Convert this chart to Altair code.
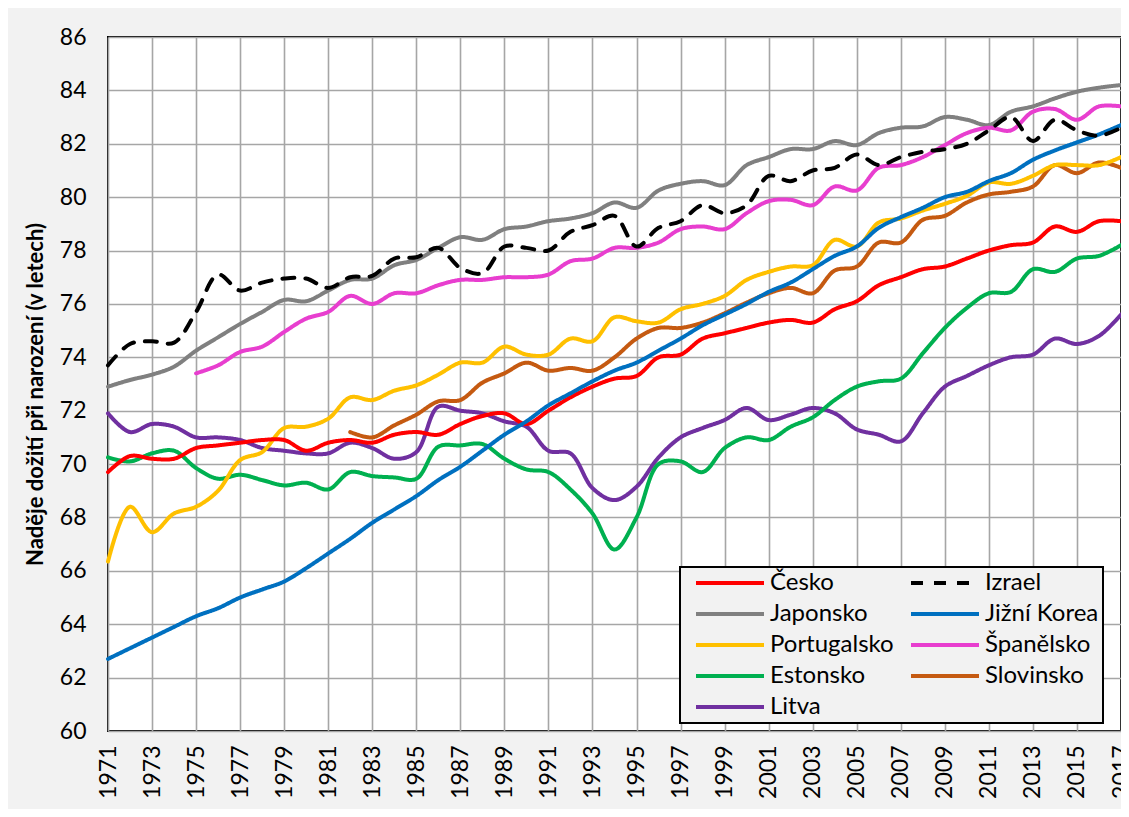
import altair as alt
import pandas as pd

years = list(range(1971, 2018))

cesko = [69.7, 70.3, 70.2, 70.2, 70.6, 70.7, 70.8, 70.9, 70.9, 70.5,
         70.8, 70.9, 70.8, 71.1, 71.2, 71.1, 71.5, 71.8, 71.9, 71.5,
         72.0, 72.5, 72.9, 73.2, 73.3, 74.0, 74.1, 74.7, 74.9, 75.1,
         75.3, 75.4, 75.3, 75.8, 76.1, 76.7, 77.0, 77.3, 77.4, 77.7,
         78.0, 78.2, 78.3, 78.9, 78.7, 79.1, 79.1]
izrael = [73.7, 74.5, 74.6, 74.55, 75.7, 77.1, 76.5, 76.8, 76.95, 76.95,
          76.6, 77.0, 77.05, 77.7, 77.75, 78.1, 77.35, 77.15, 78.15, 78.1,
          78.0, 78.7, 78.95, 79.3, 78.15, 78.85, 79.1, 79.7, 79.4, 79.7,
          80.8, 80.6, 81.0, 81.1, 81.6, 81.2, 81.5, 81.7, 81.8, 82.0,
          82.5, 83.0, 82.1, 82.9, 82.5, 82.3, 82.6]
japonsko = [72.9, 73.15, 73.35, 73.65, 74.25, 74.75, 75.25, 75.7, 76.15, 76.1,
            76.5, 76.9, 76.95, 77.45, 77.65, 78.1, 78.5, 78.4, 78.8, 78.9,
            79.1, 79.2, 79.4, 79.8, 79.6, 80.25, 80.5, 80.6, 80.45, 81.2,
            81.5, 81.8, 81.8, 82.1, 81.95, 82.4, 82.6, 82.65, 83.0, 82.9,
            82.7, 83.2, 83.4, 83.7, 83.95, 84.1, 84.2]
korea = [62.7, 63.1, 63.5, 63.9, 64.3, 64.6, 65.0, 65.3, 65.6, 66.1,
         66.65, 67.2, 67.8, 68.3, 68.8, 69.4, 69.9, 70.5, 71.1, 71.6,
         72.2, 72.65, 73.1, 73.5, 73.8, 74.25, 74.7, 75.2, 75.6, 76.0,
         76.45, 76.8, 77.3, 77.8, 78.15, 78.85, 79.25, 79.6, 80.0, 80.2,
         80.6, 80.9, 81.4, 81.75, 82.05, 82.35, 82.7]
portugalsko = [66.35, 68.4, 67.45, 68.15, 68.4, 69.0, 70.15, 70.45, 71.35, 71.4,
               71.7, 72.5, 72.4, 72.75, 72.95, 73.35, 73.8, 73.8, 74.4, 74.1,
               74.1, 74.7, 74.6, 75.5, 75.35, 75.3, 75.8, 76.0, 76.3, 76.9,
               77.2, 77.4, 77.45, 78.4, 78.15, 79.05, 79.2, 79.5, 79.75, 80.05,
               80.55, 80.5, 80.8, 81.2, 81.2, 81.2, 81.5]
spanelsko = [None, None, None, None, 73.4, 73.7, 74.2, 74.4, 74.95, 75.45,
             75.7, 76.3, 76.0, 76.4, 76.4, 76.7, 76.9, 76.9, 77.0, 77.0,
             77.1, 77.6, 77.7, 78.1, 78.1, 78.3, 78.8, 78.9, 78.8, 79.4,
             79.85, 79.9, 79.7, 80.4, 80.25, 81.1, 81.2, 81.5, 81.95, 82.4,
             82.6, 82.5, 83.2, 83.3, 82.9, 83.4, 83.4]
estonsko = [70.25, 70.1, 70.4, 70.5, 69.85, 69.45, 69.6, 69.4, 69.2, 69.3,
            69.05, 69.7, 69.55, 69.5, 69.45, 70.65, 70.7, 70.75, 70.2, 69.8,
            69.7, 69.05, 68.15, 66.8, 68.0, 70.0, 70.1, 69.7, 70.6, 71.0,
            70.9, 71.4, 71.75, 72.4, 72.9, 73.1, 73.2, 74.15, 75.1, 75.85,
            76.4, 76.45, 77.3, 77.2, 77.7, 77.8, 78.2]
slovinsko = [None, None, None, None, None, None, None, None, None, None,
             None, 71.2, 71.0, 71.45, 71.85, 72.35, 72.4, 73.05, 73.4, 73.8,
             73.5, 73.6, 73.5, 74.0, 74.7, 75.1, 75.1, 75.3, 75.65, 76.05,
             76.4, 76.6, 76.4, 77.25, 77.4, 78.3, 78.3, 79.15, 79.3, 79.8,
             80.1, 80.2, 80.4, 81.2, 80.9, 81.3, 81.1]
litva = [71.9, 71.2, 71.5, 71.4, 71.0, 71.0, 70.9, 70.6, 70.5, 70.4,
         70.4, 70.8, 70.6, 70.2, 70.45, 72.15, 72.0, 71.9, 71.6, 71.4,
         70.5, 70.4, 69.1, 68.65, 69.15, 70.25, 71.0, 71.35, 71.65, 72.1,
         71.65, 71.85, 72.1, 71.9, 71.3, 71.1, 70.85, 71.9, 72.9, 73.3,
         73.7, 74.0, 74.1, 74.7, 74.5, 74.8, 75.6]

# legend order (filled column by column: left column first, then right column)
names = ["Česko", "Japonsko", "Portugalsko", "Estonsko", "Litva",
         "Izrael", "Jižní Korea", "Španělsko", "Slovinsko"]
colors = ["#ff0000", "#808080", "#ffc000", "#00b050", "#7030a0",
          "#000000", "#0070c0", "#e83ecf", "#c55a11"]
dashes = [[1, 0], [1, 0], [1, 0], [1, 0], [1, 0],
          [12, 11], [1, 0], [1, 0], [1, 0]]
widths = [4, 4, 4, 4, 4, 5.5, 4, 4, 4]

series = {"Česko": cesko, "Izrael": izrael, "Japonsko": japonsko,
          "Jižní Korea": korea, "Portugalsko": portugalsko,
          "Španělsko": spanelsko, "Estonsko": estonsko,
          "Slovinsko": slovinsko, "Litva": litva}

draw_order = ["Litva", "Slovinsko", "Estonsko", "Portugalsko", "Česko",
              "Jižní Korea", "Japonsko", "Španělsko", "Izrael"]
rows = []
for nm in draw_order:
    for yr, v in zip(years, series[nm]):
        if v is not None:
            rows.append({"rok": yr, "hodnota": v, "zeme": nm})
df = pd.DataFrame(rows)

FONT = "Lato"

legend = alt.Legend(title=None, orient="none", legendX=572, legendY=530,
                    columns=2, columnPadding=5, rowPadding=7, padding=4,
                    symbolType="M0,0H8", symbolSize=289,
                    symbolStrokeWidth=4, labelFontSize=24, labelOffset=62,
                    fillColor="#f2f2f2", strokeColor="#000000",
                    labelColor="#000000", labelFont=FONT)

chart = alt.Chart(df).mark_line(interpolate="catmull-rom", strokeCap="round").encode(
    x=alt.X("rok:Q",
            scale=alt.Scale(domain=[1971, 2017], nice=False, zero=False),
            axis=alt.Axis(values=list(range(1971, 2018, 2)), format="d",
                          labelAngle=-90, title=None, ticks=False,
                          labelPadding=14, labelFontSize=23)),
    y=alt.Y("hodnota:Q",
            scale=alt.Scale(domain=[60, 86], nice=False, zero=False),
            axis=alt.Axis(values=list(range(60, 87, 2)), ticks=False,
                          labelPadding=22, labelFontSize=23,
                          title="Naděje dožití při narození (v letech)",
                          titleFontSize=22, titleFontWeight="bold",
                          titlePadding=12, titleY=357)),
    color=alt.Color("zeme:N", sort=names,
                    scale=alt.Scale(domain=names, range=colors),
                    legend=legend),
    strokeDash=alt.StrokeDash("zeme:N", sort=names,
                              scale=alt.Scale(domain=names, range=dashes),
                              legend=legend),
    strokeWidth=alt.StrokeWidth("zeme:N",
                                scale=alt.Scale(domain=names, range=widths),
                                legend=None),
).properties(
    width=1013, height=694,
    autosize=alt.AutoSizeParams(type="none"),
    padding={"left": 100, "top": 29, "right": 0, "bottom": 78},
    background="#f2f2f2",
).configure_view(
    fill="white", stroke="#000000", strokeWidth=2
).configure_axis(
    grid=True, gridColor="#a6a6a6", gridWidth=1.6, domain=False,
    labelFont=FONT, titleFont=FONT, labelColor="#000000", titleColor="#000000"
).configure_legend(
    labelFont=FONT, strokeWidth=2
)

chart.save("out.html", embed_options={"renderer": "svg", "actions": False})
